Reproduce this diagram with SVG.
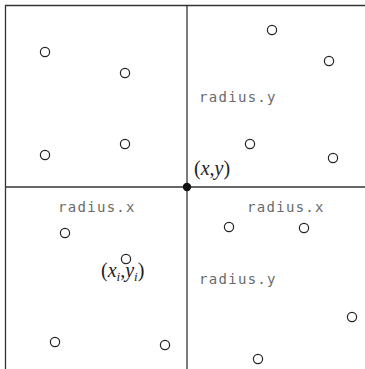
<svg xmlns="http://www.w3.org/2000/svg" width="365" height="369" viewBox="0 0 365 369">
<style>
.ln{stroke:#333;stroke-width:1.3;fill:none}
.pt{fill:#fff;stroke:#222;stroke-width:1.2}
.code{font-family:"DejaVu Sans Mono","Liberation Mono",monospace;font-size:14px;fill:#6a6a6a;letter-spacing:1.3px}
.math{font-family:"Liberation Serif",serif;font-style:italic;font-size:20px;fill:#222}
.up{font-style:normal}
</style>
<rect width="365" height="369" fill="#fff"/>
<g id="connectors">
<path class="ln" d="M365,5.5 H5.5 V369"/>
<line class="ln" x1="187" y1="5" x2="187" y2="369"/>
<line class="ln" x1="5" y1="187" x2="365" y2="187"/>
</g>
<g id="origin"><circle cx="187" cy="187" r="4.2" fill="#111"/>
<text class="math" x="194" y="175"><tspan class="up">(</tspan>x,y<tspan class="up">)</tspan></text></g>
<g id="points">
<circle class="pt" cx="45" cy="52" r="4.6"/>
<circle class="pt" cx="125" cy="73" r="4.6"/>
<circle class="pt" cx="272" cy="30" r="4.6"/>
<circle class="pt" cx="329" cy="61" r="4.6"/>
<circle class="pt" cx="45" cy="155" r="4.6"/>
<circle class="pt" cx="125" cy="144" r="4.6"/>
<circle class="pt" cx="250" cy="144" r="4.6"/>
<circle class="pt" cx="333" cy="158" r="4.6"/>
<circle class="pt" cx="65" cy="233" r="4.6"/>
<circle class="pt" cx="126" cy="259" r="4.6"/>
<circle class="pt" cx="229" cy="227" r="4.6"/>
<circle class="pt" cx="304" cy="228" r="4.6"/>
<circle class="pt" cx="352" cy="317" r="4.6"/>
<circle class="pt" cx="55" cy="342" r="4.6"/>
<circle class="pt" cx="165" cy="345" r="4.6"/>
<circle class="pt" cx="258" cy="359" r="4.6"/>
</g>
<g id="labels">
<text class="code" x="199" y="102">radius.y</text>
<text class="code" x="58" y="212">radius.x</text>
<text class="code" x="247" y="212">radius.x</text>
<text class="code" x="199" y="284">radius.y</text>
<text class="math" x="101" y="277"><tspan class="up">(</tspan>x<tspan font-size="13" dy="4">i</tspan><tspan dy="-4">,</tspan>y<tspan font-size="13" dy="4">i</tspan><tspan class="up" dy="-4">)</tspan></text>
</g>
</svg>
